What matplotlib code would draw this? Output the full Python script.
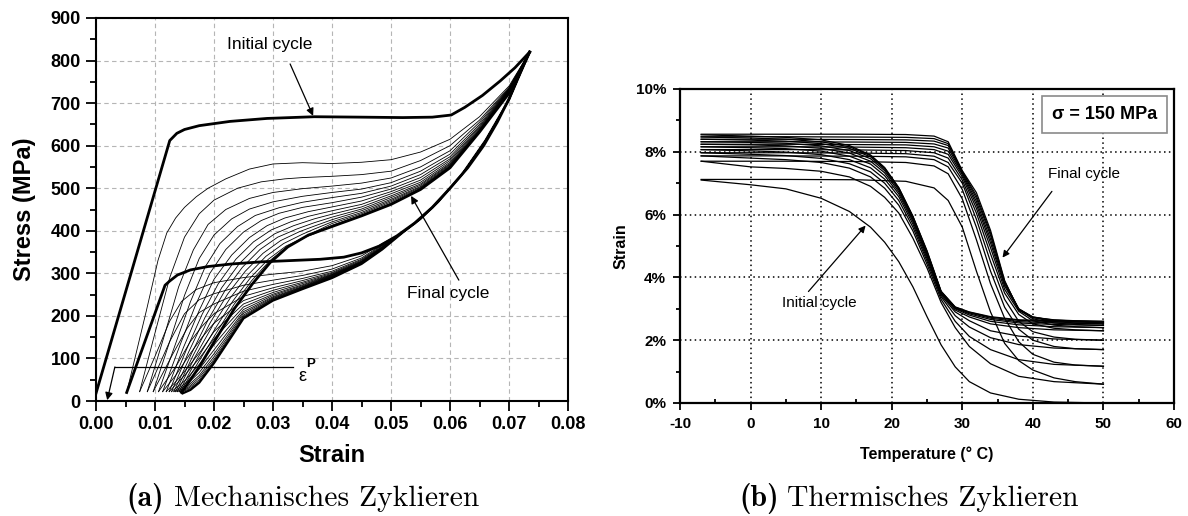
import matplotlib
matplotlib.use('Agg')
import matplotlib.pyplot as plt
from matplotlib.ticker import MultipleLocator, FuncFormatter

plt.rcParams['font.family'] = ['Liberation Sans', 'DejaVu Sans']
plt.rcParams['axes.unicode_minus'] = False

# ---------------- Panel (a): mechanical cycling (strain, stress MPa) ----------------
A_INIT_LOAD_STRAIN = [0.0, 0.0125, 0.0137, 0.015, 0.0175, 0.0227, 0.029, 0.037, 0.045, 0.052,
                      0.057, 0.0602, 0.0625, 0.0655, 0.0685, 0.071, 0.0735]
A_INIT_LOAD_STRESS = [18, 612, 629, 638, 647, 657, 664, 668, 667, 666,
                      667, 672, 690, 718, 752, 783, 820]
A_INIT_UNLOAD_STRAIN = [0.0735, 0.0715, 0.070, 0.068, 0.0657, 0.063, 0.060, 0.057, 0.054, 0.051,
                        0.048, 0.045, 0.042, 0.038, 0.033, 0.028, 0.023, 0.019, 0.016, 0.0138,
                        0.0125, 0.0117, 0.0052]
A_INIT_UNLOAD_STRESS = [820, 760, 710, 655, 600, 548, 500, 455, 418, 388,
                        364, 348, 338, 333, 330, 327, 322, 316, 308, 296,
                        282, 272, 20]

# loading branches of cycles 2..16 : steep head (strain, stress) + common tail
A_LOAD_HEAD = [
    [(0.0052, 20), (0.0085, 210), (0.0105, 330), (0.0120, 395), (0.0135, 430), (0.0150, 455), (0.0170, 480), (0.0190, 500), (0.022, 522), (0.026, 545), (0.030, 557), (0.035, 560)],
    [(0.0074, 22), (0.0100, 160), (0.0125, 290), (0.0150, 385), (0.0175, 440), (0.020, 472), (0.024, 500), (0.028, 515), (0.032, 522), (0.035, 525)],
    [(0.0087, 22), (0.0115, 150), (0.0140, 268), (0.0165, 355), (0.019, 415), (0.022, 450), (0.026, 476), (0.030, 490), (0.035, 499)],
    [(0.0097, 22), (0.0125, 140), (0.0150, 248), (0.0175, 335), (0.020, 390), (0.023, 428), (0.026, 451), (0.030, 468), (0.035, 481)],
    [(0.0106, 22), (0.0135, 135), (0.0160, 233), (0.0185, 315), (0.021, 370), (0.024, 410), (0.027, 436), (0.031, 454), (0.035, 467)],
    [(0.0113, 22), (0.0142, 130), (0.0168, 223), (0.0193, 300), (0.022, 356), (0.025, 397), (0.028, 424), (0.031, 441), (0.035, 455)],
    [(0.0119, 22), (0.0148, 125), (0.0175, 213), (0.020, 286), (0.023, 343), (0.026, 384), (0.029, 412), (0.032, 430), (0.036, 445)],
    [(0.0124, 22), (0.0153, 120), (0.0180, 204), (0.0207, 275), (0.0237, 333), (0.0267, 374), (0.0297, 402), (0.033, 421), (0.036, 434)],
    [(0.0128, 22), (0.0157, 115), (0.0185, 197), (0.0213, 266), (0.0243, 323), (0.0273, 364), (0.0303, 393), (0.0335, 412), (0.037, 428)],
    [(0.0132, 22), (0.0162, 112), (0.0190, 191), (0.0218, 258), (0.0248, 314), (0.0278, 356), (0.0308, 385), (0.034, 404), (0.037, 419)],
    [(0.0135, 22), (0.0165, 108), (0.0194, 185), (0.0223, 251), (0.0253, 305), (0.0283, 347), (0.0313, 377), (0.0345, 398), (0.037, 411)],
    [(0.0138, 22), (0.0168, 104), (0.0198, 178), (0.0228, 243), (0.0258, 297), (0.0288, 340), (0.0318, 370), (0.035, 392), (0.037, 404)],
    [(0.0141, 22), (0.0171, 98), (0.0202, 170), (0.0232, 235), (0.0262, 290), (0.0292, 333), (0.0322, 364), (0.0355, 386), (0.037, 397)],
    [(0.0143, 22), (0.0173, 90), (0.0204, 160), (0.0234, 227), (0.0264, 283), (0.0294, 329), (0.0324, 363), (0.0355, 385), (0.037, 393)],
    [(0.0145, 20), (0.0175, 80), (0.0205, 150), (0.0235, 218), (0.0265, 275), (0.0295, 325), (0.0325, 362), (0.036, 390)],
]
A_LOAD_TAIL_STRAIN = [0.04, 0.045, 0.05, 0.055, 0.06, 0.065, 0.07, 0.0735]
A_LOAD_TAIL_STRESS = [
    [558, 561, 567, 585, 615, 668, 740, 820],
    [528, 532, 540, 565, 600, 660, 737, 820],
    [505, 512, 524, 550, 588, 655, 735, 820],
    [490, 498, 513, 540, 580, 650, 734, 820],
    [478, 488, 505, 532, 574, 646, 733, 820],
    [466, 479, 498, 525, 569, 643, 732, 820],
    [456, 470, 492, 519, 565, 640, 731, 820],
    [447, 462, 487, 514, 561, 638, 730, 820],
    [439, 456, 482, 510, 558, 636, 729, 820],
    [432, 451, 478, 507, 556, 635, 728, 820],
    [426, 447, 474, 504, 554, 634, 727, 820],
    [421, 443, 471, 502, 552, 633, 726, 820],
    [417, 440, 468, 500, 551, 633, 725, 820],
    [413, 437, 465, 498, 550, 632, 724, 820],
    [410, 435, 462, 497, 548, 632, 723, 820],
]

# unloading branches of cycles 2..16 : common top + plateau + toe to residual strain
A_UNLOAD_TOP_STRAIN = [0.0735, 0.070, 0.066, 0.062, 0.058, 0.055, 0.052]
A_UNLOAD_TOP_STRESS = [820, 708, 612, 532, 468, 428, 396]
A_UNLOAD_MID_STRAIN = [0.0485, 0.045, 0.04, 0.035, 0.03, 0.025, 0.02]
A_UNLOAD_MID_STRESS = [
    [370, 341, 318, 305, 298, 290, 278],
    [367, 336, 310, 295, 284, 272, 252],
    [365, 333, 305, 288, 274, 258, 228],
    [363, 331, 302, 283, 266, 246, 205],
    [362, 329, 300, 279, 260, 236, 183],
    [361, 328, 298, 276, 255, 228, 163],
    [360, 327, 297, 273, 251, 221, 146],
    [359, 326, 296, 271, 248, 215, 132],
    [359, 325, 295, 269, 245, 210, 120],
    [358, 325, 294, 268, 243, 206, 111],
    [358, 324, 293, 267, 241, 202, 104],
    [357, 324, 292, 266, 240, 199, 98],
    [357, 323, 291, 265, 238, 197, 94],
    [356, 323, 290, 264, 237, 195, 91],
    [356, 322, 289, 263, 236, 194, 89],
]
A_UNLOAD_TAIL = [
    [(0.017, 262), (0.0145, 234), (0.0125, 188), (0.010, 105), (0.0074, 22)],
    [(0.0175, 238), (0.015, 205), (0.0125, 140), (0.0087, 22)],
    [(0.0175, 208), (0.0155, 172), (0.013, 110), (0.0097, 22)],
    [(0.018, 176), (0.016, 140), (0.0135, 80), (0.0106, 22)],
    [(0.018, 150), (0.016, 112), (0.0135, 60), (0.0113, 22)],
    [(0.0178, 118), (0.0155, 78), (0.0135, 45), (0.0119, 22)],
    [(0.0175, 100), (0.0150, 60), (0.0124, 22)],
    [(0.0175, 86), (0.0150, 47), (0.0128, 22)],
    [(0.0175, 75), (0.0152, 42), (0.0132, 22)],
    [(0.0175, 67), (0.0153, 38), (0.0135, 22)],
    [(0.0175, 60), (0.0155, 35), (0.0138, 22)],
    [(0.0175, 55), (0.0156, 32), (0.0141, 22)],
    [(0.0175, 50), (0.0157, 30), (0.0143, 22)],
    [(0.0175, 46), (0.0158, 28), (0.0145, 21)],
    [(0.0175, 43), (0.0160, 26), (0.0147, 18)],
]
A_XTICKS = [0.00, 0.01, 0.02, 0.03, 0.04, 0.05, 0.06, 0.07, 0.08]
A_YTICKS = [0, 100, 200, 300, 400, 500, 600, 700, 800, 900]

# ---------------- Panel (b): thermal cycling (temperature, strain %) ----------------
B_COOL_T = [-7, 0, 5, 10, 14, 17, 19, 21, 23, 25, 27, 29, 31, 34, 38, 43, 50]
B_COOL = [
    [7.10, 6.95, 6.82, 6.52, 6.10, 5.60, 5.12, 4.50, 3.70, 2.75, 1.85, 1.15, 0.68, 0.32, 0.12, 0.03, 0.00],
    [7.70, 7.52, 7.47, 7.38, 7.20, 6.90, 6.55, 6.05, 5.25, 4.30, 3.20, 2.40, 1.80, 1.25, 0.85, 0.68, 0.60],
    [7.87, 7.80, 7.75, 7.66, 7.48, 7.20, 6.84, 6.30, 5.48, 4.42, 3.30, 2.60, 2.12, 1.70, 1.38, 1.23, 1.17],
    [7.97, 7.92, 7.88, 7.79, 7.62, 7.36, 7.00, 6.45, 5.60, 4.52, 3.38, 2.78, 2.42, 2.08, 1.86, 1.75, 1.70],
    [8.07, 8.03, 7.99, 7.91, 7.75, 7.49, 7.13, 6.57, 5.70, 4.60, 3.43, 2.90, 2.62, 2.30, 2.13, 2.04, 2.00],
    [8.16, 8.13, 8.10, 8.02, 7.86, 7.61, 7.24, 6.66, 5.78, 4.67, 3.47, 2.96, 2.74, 2.52, 2.40, 2.33, 2.30],
    [8.24, 8.22, 8.19, 8.11, 7.96, 7.70, 7.33, 6.73, 5.84, 4.73, 3.50, 3.00, 2.80, 2.60, 2.49, 2.43, 2.40],
    [8.32, 8.30, 8.27, 8.19, 8.04, 7.78, 7.40, 6.79, 5.89, 4.77, 3.52, 3.02, 2.84, 2.66, 2.55, 2.50, 2.47],
    [8.40, 8.37, 8.34, 8.26, 8.11, 7.84, 7.45, 6.83, 5.92, 4.80, 3.54, 3.04, 2.87, 2.70, 2.59, 2.55, 2.52],
    [8.47, 8.44, 8.40, 8.32, 8.16, 7.88, 7.48, 6.85, 5.94, 4.83, 3.55, 3.05, 2.89, 2.73, 2.63, 2.59, 2.56],
    [8.54, 8.50, 8.46, 8.38, 8.20, 7.90, 7.50, 6.86, 5.95, 4.85, 3.56, 3.06, 2.90, 2.75, 2.65, 2.62, 2.60],
]
B_HEAT_T = [-7, 5, 15, 22, 26, 28, 30, 32, 34, 36, 38, 40, 43, 46, 50]
B_HEAT = [
    [7.12, 7.12, 7.11, 7.06, 6.85, 6.45, 5.60, 4.20, 2.90, 1.90, 1.35, 1.05, 0.80, 0.68, 0.60],
    [7.70, 7.70, 7.69, 7.66, 7.55, 7.30, 6.50, 5.20, 3.80, 2.70, 1.95, 1.55, 1.30, 1.21, 1.17],
    [7.87, 7.87, 7.86, 7.84, 7.75, 7.52, 6.80, 5.60, 4.20, 3.05, 2.35, 2.00, 1.80, 1.73, 1.70],
    [7.97, 7.97, 7.96, 7.94, 7.86, 7.66, 7.00, 5.85, 4.50, 3.30, 2.60, 2.27, 2.10, 2.03, 2.00],
    [8.07, 8.07, 8.06, 8.04, 7.97, 7.80, 7.10, 6.05, 4.75, 3.50, 2.82, 2.52, 2.38, 2.33, 2.30],
    [8.16, 8.16, 8.15, 8.13, 8.07, 7.92, 7.20, 6.20, 4.95, 3.62, 2.92, 2.62, 2.48, 2.43, 2.40],
    [8.24, 8.24, 8.23, 8.22, 8.16, 8.02, 7.27, 6.32, 5.10, 3.72, 2.98, 2.68, 2.55, 2.50, 2.47],
    [8.32, 8.32, 8.31, 8.30, 8.25, 8.12, 7.32, 6.42, 5.22, 3.78, 3.00, 2.72, 2.59, 2.55, 2.52],
    [8.40, 8.40, 8.39, 8.38, 8.34, 8.20, 7.36, 6.52, 5.34, 3.84, 3.00, 2.74, 2.62, 2.59, 2.56],
    [8.48, 8.48, 8.47, 8.46, 8.42, 8.26, 7.38, 6.60, 5.42, 3.87, 2.98, 2.74, 2.64, 2.61, 2.58],
    [8.56, 8.56, 8.56, 8.55, 8.50, 8.32, 7.40, 6.70, 5.50, 3.90, 2.95, 2.72, 2.65, 2.62, 2.60],
]
B_XTICKS = [-10, 0, 10, 20, 30, 40, 50, 60]
B_YTICKS = [0, 2, 4, 6, 8, 10]

# ---------------- figure ----------------
W, H = 1188, 516
fig = plt.figure(figsize=(W / 100, H / 100), dpi=100)
axA = fig.add_axes([96 / W, 1 - 401 / H, 472 / W, 383 / H])
axB = fig.add_axes([680 / W, 1 - 403 / H, 494 / W, 314 / H])

THIN, THICK = 0.6, 2.0
axA.plot(A_INIT_LOAD_STRAIN, A_INIT_LOAD_STRESS, color='k', lw=THICK, zorder=4)
axA.plot(A_INIT_UNLOAD_STRAIN, A_INIT_UNLOAD_STRESS, color='k', lw=THICK, zorder=4)
n = len(A_LOAD_HEAD)
for i in range(n):
    last = (i == n - 1)
    xs = [p[0] for p in A_LOAD_HEAD[i]] + A_LOAD_TAIL_STRAIN
    ys = [p[1] for p in A_LOAD_HEAD[i]] + A_LOAD_TAIL_STRESS[i]
    axA.plot(xs, ys, color='k', lw=THICK if last else THIN, zorder=4 if last else 3)
    xu = A_UNLOAD_TOP_STRAIN + A_UNLOAD_MID_STRAIN + [p[0] for p in A_UNLOAD_TAIL[i]]
    yu = A_UNLOAD_TOP_STRESS + A_UNLOAD_MID_STRESS[i] + [p[1] for p in A_UNLOAD_TAIL[i]]
    axA.plot(xu, yu, color='k', lw=1.6 if last else THIN, zorder=4 if last else 3)

axA.set_xlim(0, 0.08)
axA.set_ylim(0, 900)
axA.set_xticks(A_XTICKS)
axA.set_yticks(A_YTICKS)
axA.xaxis.set_minor_locator(MultipleLocator(0.005))
axA.yaxis.set_minor_locator(MultipleLocator(50))
axA.xaxis.set_major_formatter(FuncFormatter(lambda v, p: '%.2f' % v))
axA.tick_params(which='both', direction='out', top=False, right=False, width=1.3)
axA.tick_params(which='major', length=7, pad=4, labelsize=13)
axA.tick_params(which='minor', length=4)
for lab in axA.get_xticklabels() + axA.get_yticklabels():
    lab.set_fontweight('bold')
axA.grid(True, which='major', color='#b5b5b5', linestyle=(0, (4, 3)), lw=0.8)
for sp in axA.spines.values():
    sp.set_linewidth(1.5)
axA.set_xlabel('Strain', fontsize=17, fontweight='bold')
axA.set_ylabel('Stress (MPa)', fontsize=17, fontweight='bold')
axA.xaxis.set_label_coords(0.5, -0.112)
axA.yaxis.set_label_coords(-0.127, 0.5)

axA.text(0.0295, 837, 'Initial cycle', fontsize=12.5, ha='center', va='center')
axA.annotate('', xy=(0.0368, 670), xytext=(0.0329, 792),
             arrowprops=dict(arrowstyle='-|>', color='k', lw=0.9, mutation_scale=11, shrinkA=0, shrinkB=0))
axA.text(0.0597, 252, 'Final cycle', fontsize=12.5, ha='center', va='center')
axA.annotate('', xy=(0.0534, 482), xytext=(0.0615, 284),
             arrowprops=dict(arrowstyle='-|>', color='k', lw=0.9, mutation_scale=11, shrinkA=0, shrinkB=0))
axA.plot([0.0334, 0.0032], [80, 80], color='k', lw=0.9)
axA.annotate('', xy=(0.0019, 2), xytext=(0.0032, 80),
             arrowprops=dict(arrowstyle='-|>', color='k', lw=0.9, mutation_scale=11, shrinkA=0, shrinkB=0))
axA.text(0.0343, 38, 'ε', fontsize=13, ha='left', va='bottom')
axA.text(0.0356, 74, 'P', fontsize=9.5, ha='left', va='bottom', fontweight='bold')

# panel b
for ys in B_COOL:
    axB.plot(B_COOL_T, ys, color='k', lw=0.9)
for ys in B_HEAT:
    axB.plot(B_HEAT_T, ys, color='k', lw=0.9)
axB.set_xlim(-10, 60)
axB.set_ylim(0, 10)
axB.set_xticks(B_XTICKS)
axB.set_yticks(B_YTICKS)
axB.xaxis.set_minor_locator(MultipleLocator(5))
axB.yaxis.set_minor_locator(MultipleLocator(1))
axB.yaxis.set_major_formatter(FuncFormatter(lambda v, p: '%d%%' % v))
axB.tick_params(which='both', top=False, right=False, width=1.3)
axB.tick_params(axis='x', which='major', direction='out', length=5, pad=5)
axB.tick_params(axis='x', which='minor', direction='in', length=3)
axB.tick_params(axis='y', which='major', direction='out', length=5, pad=5)
axB.tick_params(axis='y', which='minor', direction='out', length=3)
axB.tick_params(which='major', labelsize=11)
for lab in axB.get_xticklabels() + axB.get_yticklabels():
    lab.set_fontweight('bold')
axB.grid(True, which='major', color='k', linestyle=(0, (1, 2.2)), lw=1.1)
for sp in axB.spines.values():
    sp.set_linewidth(1.6)
axB.set_xlabel('Temperature (° C)', fontsize=11.5, fontweight='bold')
axB.set_ylabel('Strain', fontsize=11.5, fontweight='bold')
axB.xaxis.set_label_coords(0.5, -0.137)
axB.yaxis.set_label_coords(-0.105, 0.5)

axB.text(50.2, 9.18, 'σ = 150 MPa', fontsize=13, fontweight='bold', ha='center', va='center',
         bbox=dict(boxstyle='square,pad=0.55', facecolor='white', edgecolor='#8a8a8a', lw=1.2), zorder=5)
axB.text(47.2, 7.28, 'Final cycle', fontsize=11, ha='center', va='center')
axB.annotate('', xy=(35.7, 4.63), xytext=(42.7, 6.74),
             arrowprops=dict(arrowstyle='-|>', color='k', lw=0.9, mutation_scale=10, shrinkA=0, shrinkB=0))
axB.text(9.8, 3.17, 'Initial cycle', fontsize=11, ha='center', va='center')
axB.annotate('', xy=(16.3, 5.65), xytext=(8.2, 3.55),
             arrowprops=dict(arrowstyle='-|>', color='k', lw=0.9, mutation_scale=10, shrinkA=0, shrinkB=0))

# captions
yb = 1 - 506 / H
fig.text(126 / W, yb, '(a)', fontsize=21.3, family='cmb10', va='baseline', ha='left')
fig.text(174 / W, yb, 'Mechanisches Zyklieren', fontsize=21.3, family='cmr10', va='baseline', ha='left')
fig.text(739 / W, yb, '(b)', fontsize=21.3, family='cmb10', va='baseline', ha='left')
fig.text(787 / W, yb, 'Thermisches Zyklieren', fontsize=21.3, family='cmr10', va='baseline', ha='left')

fig.savefig('out.png', dpi=100)
